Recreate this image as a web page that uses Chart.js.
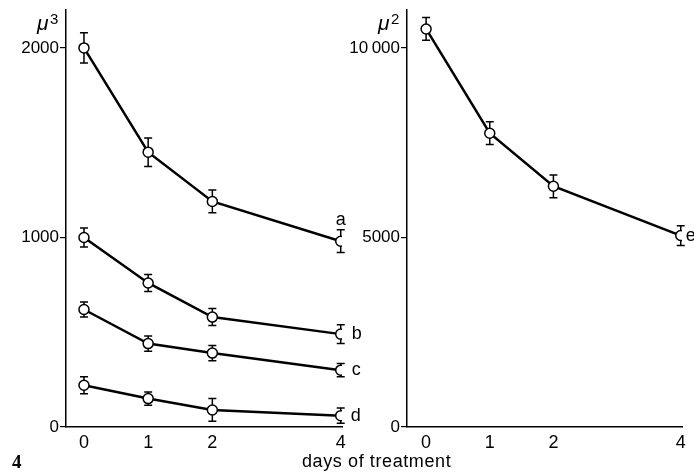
<!DOCTYPE html>
<html>
<head>
<meta charset="utf-8">
<script src="https://cdn.jsdelivr.net/npm/chart.js@4.4.0/dist/chart.umd.min.js"></script>
<style>
body { margin: 0; background: #fff; }
#wrap { position: relative; width: 694px; height: 475px; overflow: hidden; }
#left { position: absolute; left: 0; top: 0; }
#right { position: absolute; left: 340px; top: 0; }
.cap { position: absolute; color: #000; font-family: "Liberation Sans", Arial, sans-serif; }
</style>
</head>
<body>
<div id="wrap">
	<canvas id="left" width="370" height="475"></canvas>
	<canvas id="right" width="354" height="475"></canvas>
	<div class="cap" style="left:302px; top:451px; font-size:18px; letter-spacing:0.6px;">days of treatment</div>
	<div class="cap" style="left:12px; top:451px; font: bold 19px 'Liberation Serif', serif;">4</div>
</div>
<script>
// days of treatment
var days = [0, 1, 2, 4];
var dayTicks = [0, 1, 2, 4];

// volumes (mu^3), curves a-d
var volA = [2000, 1450, 1190, 980];
var errA = [80, 75, 60, 60];
var volB = [1000, 760, 580, 490];
var errB = [50, 45, 45, 50];
var volC = [620, 440, 390, 300];
var errC = [40, 40, 40, 35];
var volD = [220, 150, 90, 60];
var errD = [45, 35, 60, 40];
var volTicks = [0, 1000, 2000];

// area (mu^2), curve e
var areaE = [10500, 7750, 6350, 5050];
var errE = [300, 300, 300, 260];
var areaTicks = [0, 5000, 10000];

var FONT = "'Liberation Sans', Arial, sans-serif";

function series(name, vals, errs, dx, dy, align) {
	return {
		label: name,
		data: days.map(function(d, i){ return {x: d, y: vals[i]}; }),
		errs: errs,
		tag: {dx: dx, dy: dy, align: align},
		borderColor: '#000',
		borderWidth: 2.5,
		pointRadius: 5,
		pointHoverRadius: 5,
		pointBackgroundColor: '#fff',
		pointBorderColor: '#000',
		pointBorderWidth: 1.5,
		tension: 0
	};
}

var errorBars = {
	id: 'errorBars',
	beforeDatasetsDraw: function(chart){
		var ctx = chart.ctx, xs = chart.scales.x, ys = chart.scales.y;
		ctx.save();
		ctx.strokeStyle = '#000';
		ctx.lineWidth = 1.5;
		chart.data.datasets.forEach(function(ds){
			ds.data.forEach(function(p, i){
				var x = xs.getPixelForValue(p.x);
				var top = ys.getPixelForValue(p.y + ds.errs[i]);
				var bot = ys.getPixelForValue(p.y - ds.errs[i]);
				ctx.beginPath();
				ctx.moveTo(x, top); ctx.lineTo(x, bot);
				ctx.moveTo(x - 4, top); ctx.lineTo(x + 4, top);
				ctx.moveTo(x - 4, bot); ctx.lineTo(x + 4, bot);
				ctx.stroke();
			});
		});
		ctx.restore();
	}
};

var tags = {
	id: 'tags',
	afterDatasetsDraw: function(chart, args, opts){
		var ctx = chart.ctx;
		ctx.save();
		ctx.fillStyle = '#000';
		ctx.font = '18px ' + FONT;
		ctx.textBaseline = 'middle';
		chart.data.datasets.forEach(function(ds, i){
			var pts = chart.getDatasetMeta(i).data;
			var last = pts[pts.length - 1];
			ctx.textAlign = ds.tag.align;
			ctx.fillText(ds.label, last.x + ds.tag.dx, last.y + ds.tag.dy);
		});
		// unit label
		var ux = chart.chartArea.left - 29;
		ctx.textAlign = 'left';
		ctx.textBaseline = 'alphabetic';
		ctx.font = 'italic 21px ' + FONT;
		ctx.fillText('\u03bc', ux, 30);
		ctx.font = '15px ' + FONT;
		ctx.fillText(opts.power, ux + 13, 24);
		ctx.restore();
	}
};

function makeOptions(yMax, yTicks, yWidth, xMin, xMax, padRight, power, fmt) {
	return {
		responsive: false,
		animation: false,
		events: [],
		layout: {padding: {top: 10, right: padRight, left: 0, bottom: 0}},
		plugins: {
			legend: {display: false},
			tooltip: {enabled: false},
			tags: {power: power}
		},
		scales: {
			x: {
				type: 'linear',
				min: xMin,
				max: xMax,
				afterBuildTicks: function(s){ s.ticks = dayTicks.map(function(v){ return {value: v}; }); },
				afterFit: function(s){ s.height = 48; s.paddingLeft = 0; s.paddingRight = 0; },
				border: {color: '#000', width: 1.5},
				grid: {drawOnChartArea: false, drawTicks: false, color: '#000'},
				ticks: {color: '#000', font: {family: FONT, size: 18}, padding: 5, maxRotation: 0}
			},
			y: {
				min: 0,
				max: yMax,
				afterBuildTicks: function(s){ s.ticks = yTicks.map(function(v){ return {value: v}; }); },
				afterFit: function(s){ s.width = yWidth; s.paddingTop = 0; s.paddingBottom = 0; },
				border: {color: '#000', width: 1.5},
				grid: {drawOnChartArea: false, color: '#000', tickLength: 6, lineWidth: 1.2},
				ticks: {color: '#000', font: {family: FONT, size: 17}, padding: 1, callback: fmt}
			}
		}
	};
}

new Chart(document.getElementById('left'), {
	type: 'line',
	data: {
		datasets: [
			series('a', volA, errA, 0, -21, 'center'),
			series('b', volB, errB, 11, 0, 'left'),
			series('c', volC, errC, 11, 0, 'left'),
			series('d', volD, errD, 10, 0, 'left')
		]
	},
	options: makeOptions(2200, volTicks, 66, -0.28, 4.02, 28, '3', function(v){ return String(v); }),
	plugins: [errorBars, tags]
});

new Chart(document.getElementById('right'), {
	type: 'line',
	data: {
		datasets: [
			series('e', areaE, errE, 5, 0, 'left')
		]
	},
	options: makeOptions(11000, areaTicks, 67, -0.30, 4.02, 12, '2', function(v){ return v >= 10000 ? '10\u2009000' : String(v); }),
	plugins: [errorBars, tags]
});
</script>
</body>
</html>
